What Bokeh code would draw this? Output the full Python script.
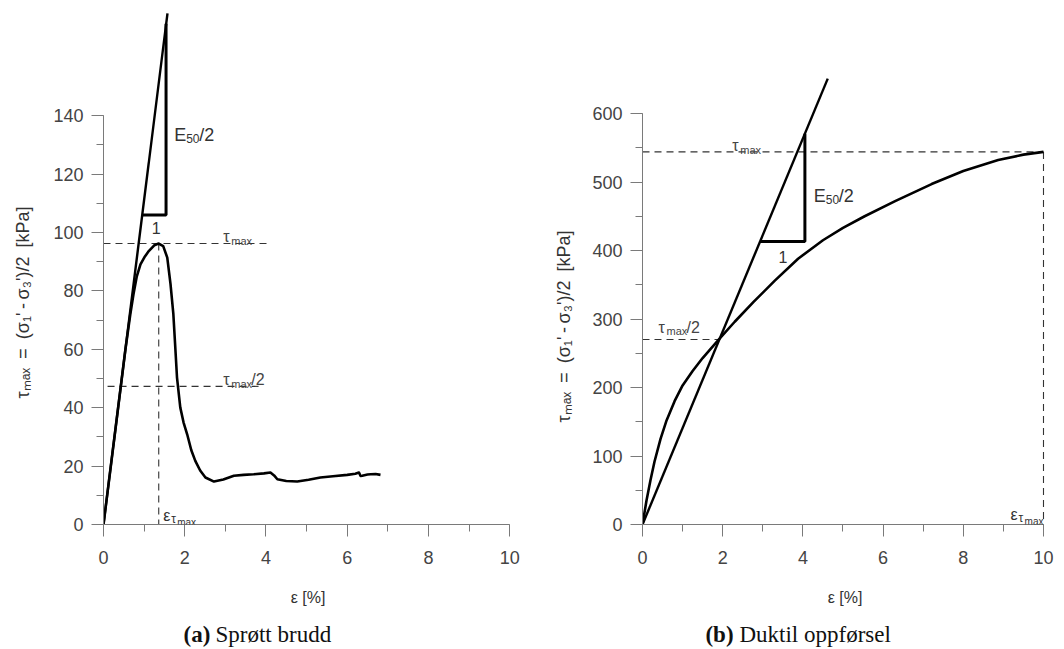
import math
from bokeh.plotting import figure
from bokeh.models import SingleIntervalTicker, Label
from bokeh.layouts import row, column
from bokeh.core.properties import value
from bokeh.embed import file_html
from bokeh.resources import INLINE

# ---------------- data: (a) brittle failure ----------------
eps_a = [0, 0.18, 0.36, 0.54, 0.66, 0.74, 0.82, 0.91, 1.02, 1.12, 1.25, 1.36, 1.47, 1.57, 1.65,
         1.72, 1.77, 1.81, 1.89, 1.97, 2.06, 2.16, 2.26, 2.38, 2.51, 2.72, 2.95,
         3.21, 3.45, 3.7, 3.95, 4.11, 4.2, 4.28, 4.5, 4.77, 5.05, 5.34, 5.65, 6.0,
         6.2, 6.29, 6.33, 6.37, 6.5, 6.58, 6.7, 6.82]
tau_a = [0, 20, 40, 60, 72, 79, 85, 89.1, 91.8, 93.7, 95.6, 96.2, 95.3, 91.4, 82.3,
         72, 60, 50.3, 40.1, 35, 30.9, 25.5, 21.8, 18.5, 16.1, 14.7, 15.4,
         16.7, 17.0, 17.2, 17.5, 17.8, 16.8, 15.5, 14.9, 14.7, 15.3, 16.1, 16.5, 17.0,
         17.4, 17.8, 16.6, 16.7, 17.1, 17.2, 17.3, 17.0]
secant_a_x = [0, 1.575]
secant_a_y = [0, 175]
tri_a_x = [0.951, 1.54, 1.54]
tri_a_y = [106, 106, 171.5]
tau_max_a = 96.2
tau_half_a = 47.3
eps_peak_a = 1.36

# ---------------- data: (b) ductile behaviour ----------------
eps_b = [0, 0.1, 0.2, 0.3, 0.45, 0.6, 0.8, 1.0, 1.25, 1.5, 1.9, 2.3, 2.77, 3.3,
         3.88, 4.5, 5.0, 5.54, 6.3, 7.21, 8.0, 8.87, 9.5, 10]
tau_b = [0, 35, 65, 92, 125, 152, 180, 203, 224, 243, 270, 296, 325, 356,
         388, 415, 433, 450, 472, 497, 516, 532, 540, 544]
secant_b_x = [0, 4.62]
secant_b_y = [0, 651]
tri_b_x = [2.93, 4.05, 4.05]
tri_b_y = [413, 413, 570.5]
tau_max_b = 544
tau_half_b = 270
eps_peak_b = 10

x_ticks_interval = 2
y_ticks_interval_a = 20
y_ticks_interval_b = 100

Y_LABEL = "τₘₐₓ\u2002=\u2002(σ₁'\u2009-\u2009σ₃')/2\u2002[kPa]"

AX_FONT = "Liberation Sans"
SERIF = "Liberation Serif"
TXT = "#333333"
AXC = "#7a7a7a"
PLOT_H = 616
CAP_H = 33
TOP = 10
BOTTOM = 92
DASH = "7 5"


def style_axes(p, ybound, yint):
    p.xaxis.ticker = SingleIntervalTicker(interval=x_ticks_interval, num_minor_ticks=2)
    p.yaxis.ticker = SingleIntervalTicker(interval=yint, num_minor_ticks=2)
    p.xaxis.bounds = (0, 10)
    p.yaxis.bounds = (0, ybound)
    for ax in (p.xaxis, p.yaxis):
        ax.axis_line_color = AXC
        ax.axis_line_width = 1
        ax.major_tick_line_color = AXC
        ax.minor_tick_line_color = AXC
        ax.major_tick_out = 12
        ax.major_tick_in = 0
        ax.minor_tick_out = 7
        ax.minor_tick_in = 0
        ax.major_label_text_font = AX_FONT
        ax.major_label_text_font_size = "18px"
        ax.major_label_text_color = "#444444"
        ax.axis_label_text_font = AX_FONT
        ax.axis_label_text_font_size = "16px"
        ax.axis_label_text_font_style = "normal"
        ax.axis_label_text_color = TXT
    p.yaxis.major_label_standoff = 8
    p.xaxis.major_label_standoff = 14
    p.xaxis.axis_label = "ε [%]"
    p.xaxis.axis_label_standoff = 22
    p.grid.visible = False
    p.outline_line_color = None


def rich(p, x, y, parts, color=TXT):
    for text, size, dx, dy in parts:
        p.add_layout(Label(x=x, y=y, x_offset=dx, y_offset=dy, text=text,
                           text_font=AX_FONT, text_font_size=f"{size}px",
                           text_color=color, text_baseline="alphabetic",
                           text_align="left"))


def tau_label(p, x, y, suffix="", color="#444444"):
    parts = [("τ", 16, 0, 0), ("max", 11, 8, -4)]
    if suffix:
        parts.append((suffix, 16, 28, 0))
    rich(p, x, y, parts, color)


def eps_label(p, x, y):
    rich(p, x, y, [("ε", 16, 0, 0), ("τ", 12, 8, -4), ("max", 10, 14, -7)])


def e50_label(p, x, y):
    rich(p, x, y, [("E", 18, 0, 0), ("50", 12, 12, -4), ("/2", 18, 25, 0)])


def side_fig(width, y_range):
    f = figure(width=width, height=PLOT_H, x_range=(0, width), y_range=y_range,
               output_backend="svg", toolbar_location=None,
               x_axis_type=None, y_axis_type=None,
               min_border_left=0, min_border_right=0,
               min_border_top=TOP, min_border_bottom=BOTTOM)
    f.grid.visible = False
    f.outline_line_color = None
    return f


def ylabel_fig(width, y_range, xc, yc):
    f = side_fig(width, y_range)
    f.text(x=[xc], y=[yc], text=[Y_LABEL], angle=math.pi / 2,
           text_font=value(AX_FONT), text_font_size="18px", text_color=TXT,
           text_align="center", text_baseline="middle")
    return f


def caption_fig(x_range, bl, br, x, tag, rest, off):
    f = figure(width=532, height=CAP_H, x_range=x_range, y_range=(0, 1),
               output_backend="svg", toolbar_location=None,
               x_axis_type=None, y_axis_type=None,
               min_border_left=bl, min_border_right=br,
               min_border_top=0, min_border_bottom=0)
    f.grid.visible = False
    f.outline_line_color = None
    f.text(x=[x], y=[0.45], text=[tag], text_font=value(SERIF), text_font_size="23px",
           text_font_style="bold", text_color="#111111", text_baseline="middle",
           text_align="left")
    f.text(x=[x], y=[0.45], x_offset=off, text=[rest], text_font=value(SERIF),
           text_font_size="23px", text_color="#111111", text_baseline="middle",
           text_align="left")
    return f


# ---------------- panel (a) ----------------
LA = 45
pa = figure(width=532 - LA, height=PLOT_H, x_range=(0, 10.07), y_range=(0, 176),
            output_backend="svg", toolbar_location=None,
            min_border_left=103 - LA, min_border_right=20, min_border_top=TOP,
            min_border_bottom=BOTTOM)
style_axes(pa, 140, y_ticks_interval_a)

pa.segment(x0=[0, 0.1, eps_peak_a], y0=[tau_max_a, tau_half_a, tau_max_a],
           x1=[4.1, 3.9, eps_peak_a], y1=[tau_max_a, tau_half_a, 0],
           line_color="#333333", line_width=1.1, line_dash=DASH)
pa.line(secant_a_x, secant_a_y, line_color="black", line_width=2.4)
pa.line(tri_a_x, tri_a_y, line_color="black", line_width=3)
pa.line(eps_a, tau_a, line_color="black", line_width=2.6, line_join="round")

tau_label(pa, 2.95, 98.5)
tau_label(pa, 2.95, 49.5, "/2")
e50_label(pa, 1.74, 133.5)
pa.add_layout(Label(x=1.3, y=101.5, text="1", text_font=AX_FONT, text_font_size="16px",
                    text_color=TXT, text_align="center", text_baseline="middle"))
eps_label(pa, 1.47, 3.2)

ya = ylabel_fig(LA, pa.y_range, 22, (524 - 302) / 2.92)
capa = caption_fig(pa.x_range, 103, 20, 1.97, "(a)", "Sprøtt brudd", 32)

# ---------------- panel (b) ----------------
LB = 50
pb = figure(width=532 - LB, height=PLOT_H, x_range=(0, 10.1), y_range=(0, 750.4),
            output_backend="svg", toolbar_location=None,
            min_border_left=110 - LB, min_border_right=17, min_border_top=TOP,
            min_border_bottom=BOTTOM)
style_axes(pb, 600, y_ticks_interval_b)

pb.segment(x0=[0, 0, eps_peak_b], y0=[tau_max_b, tau_half_b, tau_max_b],
           x1=[10, 1.9, eps_peak_b], y1=[tau_max_b, tau_half_b, 0],
           line_color="#333333", line_width=1.1, line_dash=DASH)
pb.line(secant_b_x, secant_b_y, line_color="black", line_width=2.4)
pb.line(tri_b_x, tri_b_y, line_color="black", line_width=3)
pb.line(eps_b, tau_b, line_color="black", line_width=2.6, line_join="round")

tau_label(pb, 2.24, 553)
tau_label(pb, 0.4, 288, "/2")
e50_label(pb, 4.27, 480)
pb.add_layout(Label(x=3.5, y=390, text="1", text_font=AX_FONT, text_font_size="16px",
                    text_color=TXT, text_align="center", text_baseline="middle"))
eps_label(pb, 9.18, 15)

yb = ylabel_fig(LB, pb.y_range, 31, (524 - 326) / 0.685)
capb = caption_fig(pb.x_range, 110, 17, 1.57, "(b)", "Duktil oppførsel", 34)

layout = row(column(row(ya, pa), capa), column(row(yb, pb), capb))
open("out.html", "w").write(file_html(layout, INLINE))
